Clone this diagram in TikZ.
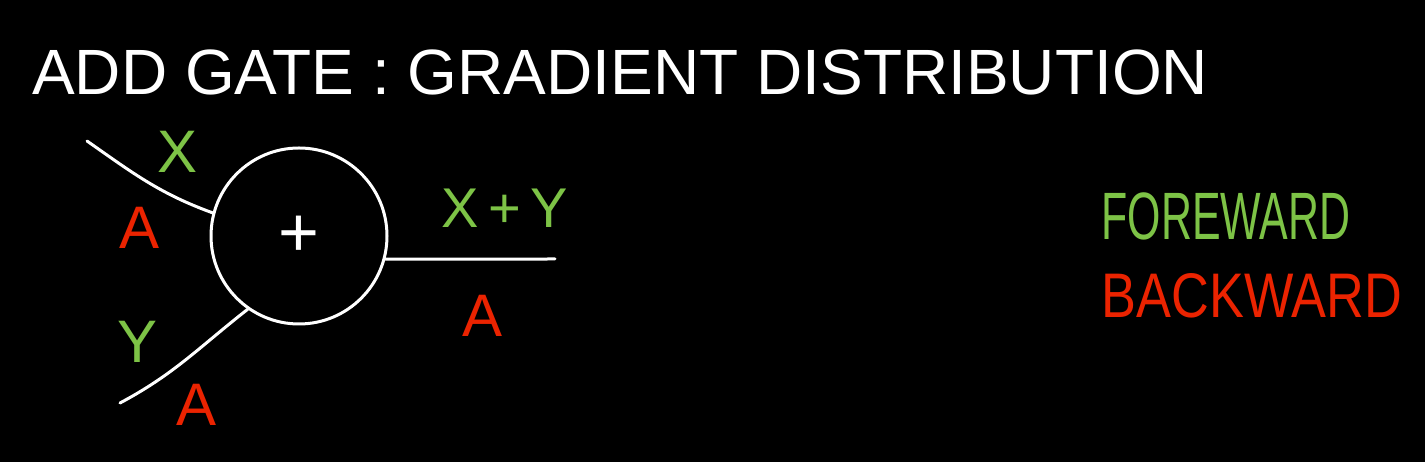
\documentclass[tikz,border=0pt]{standalone}
\usepackage{fontspec}
\setmainfont{Liberation Sans}
\definecolor{fwd}{RGB}{125,195,70}
\definecolor{bwd}{RGB}{235,35,0}
\tikzset{
  wire/.style={draw=white, line width=3pt, line cap=round},
  gatebox/.style={circle, draw=white, line width=3pt, minimum size=176pt, inner sep=0pt,
    text=white, font=\fontsize{70}{70}\selectfont},
  fwdlab/.style={text=fwd, inner sep=0pt, font=\fontsize{60}{60}\selectfont},
  bwdlab/.style={text=bwd, inner sep=0pt, font=\fontsize{60}{60}\selectfont},
  titlelab/.style={text=white, inner sep=0pt, font=\fontsize{64}{64}\selectfont},
}
\begin{document}
\begin{tikzpicture}[x=1pt,y=1pt]
\fill[black] (0,0) rectangle (1425,462);
\useasboundingbox (0,0) rectangle (1425,462);

\node[titlelab, anchor=base west] (title) at (32,367) {ADD GATE : GRADIENT DISTRIBUTION};

\node[gatebox] (g) at (299,226) {+};

\coordinate (inx) at (87,321);
\coordinate (iny) at (120,59);
\coordinate (oe) at (555,203);

\draw[wire] (inx) to[out=-35,in=160] (g.165);
\draw[wire] (iny) to[out=28,in=218] (g.235);
\draw[wire] (g.-15) -- (oe);

\node[fwdlab] (lx) at (178,310) {X};
\node[bwdlab] (la1) at (140,234) {A};
\node[fwdlab] (ly) at (138,120) {Y};
\node[bwdlab] (la2) at (197,57) {A};
\node[fwdlab, font=\fontsize{56}{56}\selectfont] (lxy) at (505,254) {X\,+\,Y};
\node[bwdlab] (la3) at (483,146) {A};

\node[fwdlab, font=\fontsize{67}{67}\selectfont, xscale=0.64, transform shape] (fw) at (1226,246) {FOREWARD};
\node[bwdlab, font=\fontsize{63}{63}\selectfont, xscale=0.83, transform shape] (bw) at (1252,166) {BACKWARD};
\end{tikzpicture}
\end{document}
